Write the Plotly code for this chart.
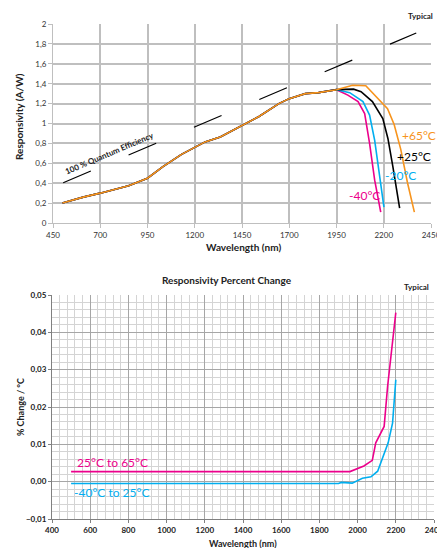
import plotly.graph_objects as go

# ---------------- data: top chart (responsivity) ----------------
base_wl = [500, 610, 700, 850, 950, 1030, 1130, 1200, 1255, 1335, 1390, 1450, 1540, 1645, 1700, 1785, 1855, 1950]
base_resp = [0.20, 0.26, 0.30, 0.375, 0.45, 0.565, 0.69, 0.76, 0.815, 0.865, 0.92, 0.98, 1.07, 1.20, 1.25, 1.30, 1.31, 1.34]

tail65_wl = [2035, 2105, 2140, 2185, 2220, 2255, 2290, 2325, 2362]
tail65_r = [1.385, 1.38, 1.31, 1.22, 1.15, 0.99, 0.74, 0.41, 0.11]
tail25_wl = [2040, 2080, 2140, 2195, 2222, 2248, 2284]
tail25_r = [1.345, 1.32, 1.22, 1.05, 0.85, 0.57, 0.15]
tailm20_wl = [2020, 2090, 2125, 2152, 2178, 2201]
tailm20_r = [1.31, 1.22, 1.085, 0.83, 0.47, 0.16]
tailm40_wl = [2010, 2064, 2099, 2125, 2152, 2184]
tailm40_r = [1.285, 1.22, 1.10, 0.80, 0.43, 0.11]

qe_wl = [504, 2372]
qe_resp = [0.405, 1.91]

# ---------------- data: bottom chart (percent change) ----------------
pc_up_wl = [500, 1960, 2033, 2077, 2095, 2139, 2157, 2200]
pc_up = [0.0027, 0.0027, 0.0042, 0.0057, 0.0104, 0.0148, 0.0255, 0.0453]
pc_low_wl = [500, 1900, 1915, 1972, 2025, 2070, 2105, 2139, 2160, 2183, 2200]
pc_low = [-0.0005, -0.0005, -0.0002, -0.0004, 0.0009, 0.0013, 0.0028, 0.0077, 0.0104, 0.0157, 0.0273]

top_xticks = [450, 700, 950, 1200, 1450, 1700, 1950, 2200, 2450]
bottom_xticks = [400, 600, 800, 1000, 1200, 1400, 1600, 1800, 2000, 2200, 2400]

ORANGE = "#F7941D"
BLUE = "#00AEEF"
MAGENTA = "#EC008C"
BLACK = "#000000"
FONT = "Lato"

W, H = 437, 548
def px(x):
    return x / W
def py(y):
    return 1 - y / H

fig = go.Figure()

# QE reference line
fig.add_trace(go.Scatter(x=qe_wl, y=qe_resp, mode="lines",
                         line=dict(color=BLACK, width=1.2, dash="30px,41px"),
                         xaxis="x", yaxis="y", hoverinfo="skip"))

series = [
    (tailm40_wl, tailm40_r, MAGENTA),
    (tailm20_wl, tailm20_r, BLUE),
    (tail25_wl, tail25_r, BLACK),
    (tail65_wl, tail65_r, ORANGE),
]
for wl, r, c in series:
    fig.add_trace(go.Scatter(x=base_wl + wl, y=base_resp + r, mode="lines",
                             line=dict(color=c, width=1.6),
                             xaxis="x", yaxis="y"))

fig.add_trace(go.Scatter(x=pc_up_wl, y=pc_up, mode="lines",
                         line=dict(color=MAGENTA, width=1.6), xaxis="x2", yaxis="y2"))
fig.add_trace(go.Scatter(x=pc_low_wl, y=pc_low, mode="lines",
                         line=dict(color=BLUE, width=1.6), xaxis="x2", yaxis="y2"))

def paper_note(x, y, text, size, angle=0, xanchor="center", color="#222"):
    return dict(x=px(x), y=py(y), xref="paper", yref="paper", text=text,
                xanchor=xanchor, yanchor="middle", showarrow=False,
                textangle=angle, font=dict(size=size, color=color))

annotations = [
    # top chart labels
    paper_note(243, 247, "<b>Wavelength (nm)</b>", 10),
    paper_note(19, 117, "<b>Responsivity (A/W)</b>", 10, angle=-90),
    paper_note(435, 16, "<b>Typical</b>", 8, xanchor="right"),
    dict(x=751, y=0.70, xref="x", yref="y", text="<b>100 % Quantum Efficiency</b>",
         showarrow=False, textangle=-23, font=dict(size=8, color="#222")),
    dict(x=2284, y=0.884, xref="x", yref="y", xanchor="left", text="+65°C",
         showarrow=False, font=dict(size=12, color=ORANGE)),
    dict(x=2258, y=0.673, xref="x", yref="y", xanchor="left", text="+25°C",
         showarrow=False, font=dict(size=12, color=BLACK)),
    dict(x=2194, y=0.482, xref="x", yref="y", xanchor="left", text="-20°C",
         showarrow=False, font=dict(size=12, color=BLUE)),
    dict(x=2004, y=0.28, xref="x", yref="y", xanchor="left", text="-40°C",
         showarrow=False, font=dict(size=12, color=MAGENTA)),
    # bottom chart labels
    paper_note(227, 280, "<b>Responsivity Percent Change</b>", 10),
    paper_note(431, 287, "<b>Typical</b>", 8, xanchor="right"),
    paper_note(243, 543, "<b>Wavelength (nm)</b>", 9),
    paper_note(20, 407, "<b>% Change / °C</b>", 9, angle=-90),
    dict(x=520, y=0.0052, xref="x2", yref="y2", xanchor="left", text="25°C to 65°C",
         showarrow=False, font=dict(size=12, color=MAGENTA)),
    dict(x=505, y=-0.0029, xref="x2", yref="y2", xanchor="left", text="-40°C to 25°C",
         showarrow=False, font=dict(size=12, color=BLUE)),
]

fig.update_layout(
    width=W, height=H,
    margin=dict(l=0, r=0, t=0, b=0, autoexpand=False),
    paper_bgcolor="white", plot_bgcolor="white",
    showlegend=False,
    separators=",.",
    font=dict(family=FONT, color="#333"),
    annotations=annotations,
    xaxis=dict(domain=[px(53), px(431)], range=[450, 2450],
               tickmode="array", tickvals=top_xticks, ticktext=[str(v) for v in top_xticks],
               ticklabeloverflow="allow",
               showgrid=True, gridcolor="#bfbfbf", gridwidth=1.6, zeroline=False,
               showline=True, linecolor="#bfbfbf", linewidth=1,
               ticks="outside", ticklen=4, tickcolor="#bfbfbf", automargin=False,
               tickfont=dict(size=8, color="#333"), anchor="y"),
    yaxis=dict(domain=[py(223), py(24)], range=[0, 2], dtick=0.2,
               showgrid=True, gridcolor="#bfbfbf", gridwidth=1.6, zeroline=False,
               showline=True, linecolor="#bfbfbf", linewidth=1,
               ticks="outside", ticklen=4, tickcolor="#bfbfbf", automargin=False,
               tickfont=dict(size=8, color="#333"), anchor="x"),
    xaxis2=dict(domain=[px(52), px(434)], range=[400, 2400],
                tickmode="array", tickvals=bottom_xticks, ticktext=[str(v) for v in bottom_xticks],
                ticklabeloverflow="allow",
                showgrid=True, gridcolor="#a6a6a6", gridwidth=1.4, zeroline=False,
                showline=True, linecolor="#808080", linewidth=1,
                ticks="outside", ticklen=3, tickcolor="#808080", automargin=False,
                tickfont=dict(size=8, color="#222", weight="bold"),
                minor=dict(dtick=40, tick0=400, showgrid=True, gridcolor="#d4d4d4", gridwidth=1.2),
                anchor="y2"),
    yaxis2=dict(domain=[py(519), py(295)], range=[-0.01, 0.05], dtick=0.01,
                tickformat=".2f",
                showgrid=True, gridcolor="#a6a6a6", gridwidth=1.4, zeroline=False,
                showline=True, linecolor="#808080", linewidth=1,
                ticks="outside", ticklen=3, tickcolor="#808080", automargin=False,
                tickfont=dict(size=8, color="#222", weight="bold"),
                minor=dict(dtick=0.002, showgrid=True, gridcolor="#d4d4d4", gridwidth=1.2),
                anchor="x2"),
)

fig.write_html("out.html", config={"displayModeBar": False})

# remove default page margins so the figure sits at the window's top-left corner
with open("out.html", "r", encoding="utf-8") as f:
    html = f.read()
html = html.replace("<head>", "<head><style>html,body{margin:0;padding:0;overflow:hidden;}</style>", 1)
with open("out.html", "w", encoding="utf-8") as f:
    f.write(html)
